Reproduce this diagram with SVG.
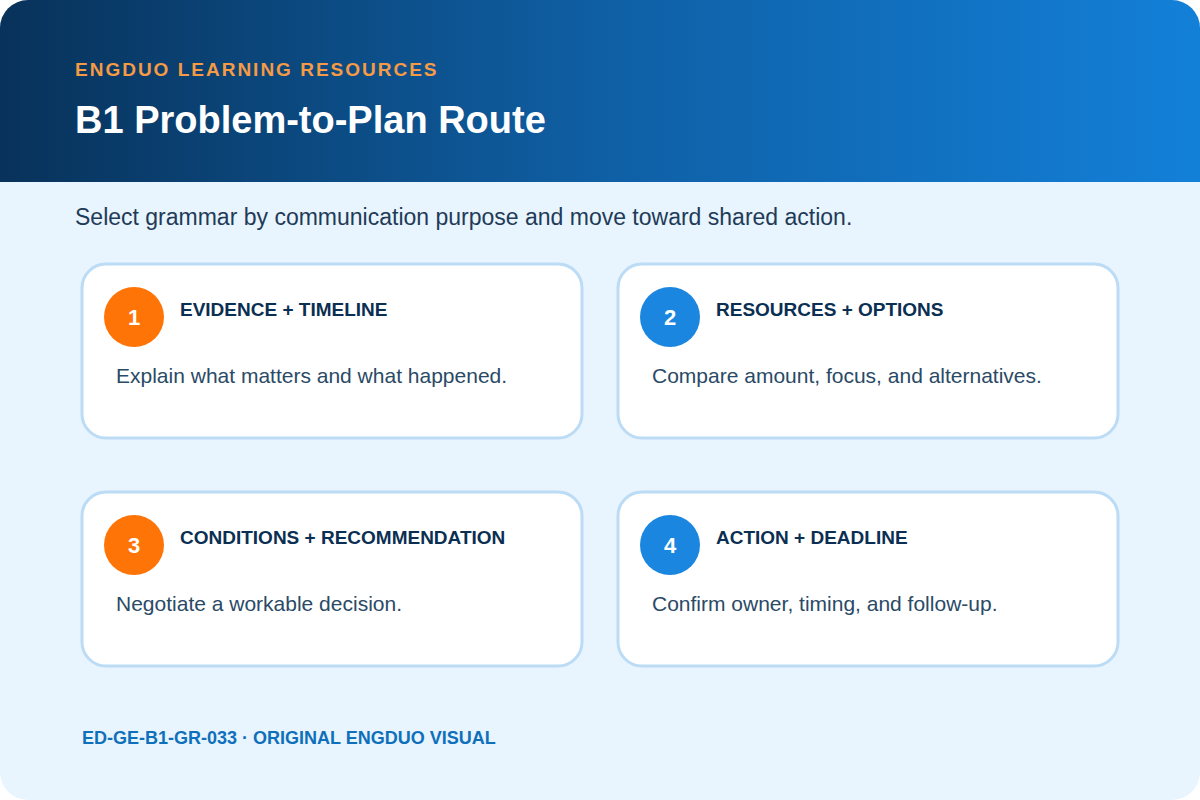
<svg xmlns="http://www.w3.org/2000/svg" width="1200" height="800" viewBox="0 0 1200 800">
<defs>
<linearGradient id="hdr" x1="0" y1="0" x2="1" y2="0">
<stop offset="0" stop-color="#08325a"/>
<stop offset="0.5" stop-color="#0f5fa4"/>
<stop offset="1" stop-color="#1380d8"/>
</linearGradient>
<clipPath id="bgclip"><rect x="0" y="0" width="1200" height="800" rx="28"/></clipPath>
<style>
.card{fill:#ffffff;stroke:#bcdcf5;stroke-width:3}
.num{font-family:"Liberation Sans",Arial,sans-serif;font-size:22px;font-weight:bold;fill:#ffffff;text-anchor:middle}
.ttl{font-family:"Liberation Sans",Arial,sans-serif;font-size:19px;font-weight:bold;fill:#0b2f52}
.desc{font-family:"Liberation Sans",Arial,sans-serif;font-size:21px;fill:#2a4a66}
.orange{fill:#ff7406}
.blue{fill:#1a86e0}
</style>
</defs>
<g clip-path="url(#bgclip)">
<rect x="0" y="0" width="1200" height="800" fill="#e8f4fe"/>
<rect x="0" y="0" width="1200" height="182" fill="url(#hdr)"/>
</g>
<text x="75" y="76" font-family="'Liberation Sans',Arial,sans-serif" font-size="19" font-weight="bold" letter-spacing="2" fill="#f59a45">ENGDUO LEARNING RESOURCES</text>
<text x="75" y="133" font-family="'Liberation Sans',Arial,sans-serif" font-size="38" font-weight="bold" fill="#ffffff">B1 Problem-to-Plan Route</text>
<text x="75" y="225" font-family="'Liberation Sans',Arial,sans-serif" font-size="23" fill="#1f3b57">Select grammar by communication purpose and move toward shared action.</text>
<g id="node1">
<rect class="card" x="82" y="264" width="500" height="174" rx="24"/>
<circle class="orange" cx="134" cy="317" r="30"/>
<text class="num" x="134" y="325">1</text>
<text class="ttl" x="180" y="316">EVIDENCE + TIMELINE</text>
<text class="desc" x="116" y="383">Explain what matters and what happened.</text>
</g>
<g id="node2">
<rect class="card" x="618" y="264" width="500" height="174" rx="24"/>
<circle class="blue" cx="670" cy="317" r="30"/>
<text class="num" x="670" y="325">2</text>
<text class="ttl" x="716" y="316">RESOURCES + OPTIONS</text>
<text class="desc" x="652" y="383">Compare amount, focus, and alternatives.</text>
</g>
<g id="node3">
<rect class="card" x="82" y="492" width="500" height="174" rx="24"/>
<circle class="orange" cx="134" cy="545" r="30"/>
<text class="num" x="134" y="553">3</text>
<text class="ttl" x="180" y="544">CONDITIONS + RECOMMENDATION</text>
<text class="desc" x="116" y="611">Negotiate a workable decision.</text>
</g>
<g id="node4">
<rect class="card" x="618" y="492" width="500" height="174" rx="24"/>
<circle class="blue" cx="670" cy="545" r="30"/>
<text class="num" x="670" y="553">4</text>
<text class="ttl" x="716" y="544">ACTION + DEADLINE</text>
<text class="desc" x="652" y="611">Confirm owner, timing, and follow-up.</text>
</g>
<g id="connectors"></g>
<text x="82" y="744" font-family="'Liberation Sans',Arial,sans-serif" font-size="18" font-weight="bold" fill="#0e70bb">ED-GE-B1-GR-033 · ORIGINAL ENGDUO VISUAL</text>
</svg>
